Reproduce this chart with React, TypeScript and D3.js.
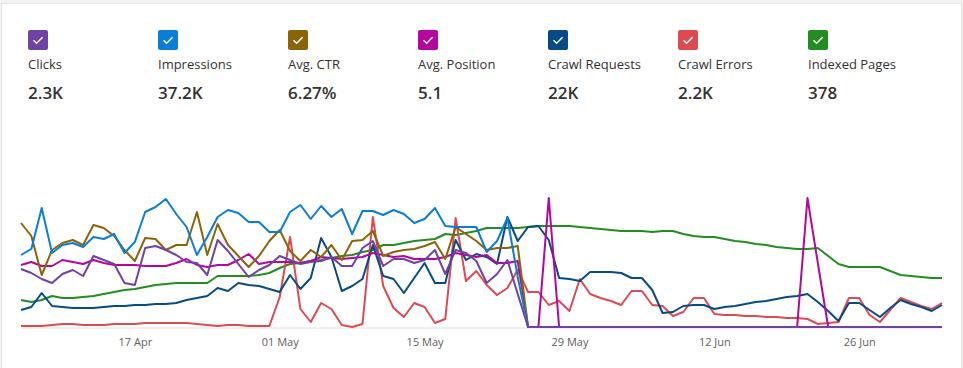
import React, { useEffect, useRef } from 'react';
import * as d3 from 'd3';

// daily points, 6 Apr -> 4 Jul, each series on its own relative scale (0..130)
const startDate = new Date(2023, 3, 6);
const tickDates = [
  new Date(2023, 3, 17),
  new Date(2023, 4, 1),
  new Date(2023, 4, 15),
  new Date(2023, 4, 29),
  new Date(2023, 5, 12),
  new Date(2023, 5, 26),
];

const legendNames = ['Clicks', 'Impressions', 'Avg. CTR', 'Avg. Position', 'Crawl Requests', 'Crawl Errors', 'Indexed Pages'];
const legendTotals = ['2.3K', '37.2K', '6.27%', '5.1', '22K', '2.2K', '378'];
const seriesColors = ['#6f42a3', '#0a7ed6', '#8c6408', '#b5069e', '#074b84', '#dc4a52', '#238d22'];

const zeros = (n: number) => new Array(n).fill(0);

const clicks = [
  58, 54, 48, 44, 53, 57, 51, 71, 67, 63, 44, 42, 79, 81, 77, 72,
  65, 64, 52, 87, 76, 63, 50, 57, 62, 71, 67, 63, 65, 66, 70,
  61, 61, 79, 86, 61, 68, 68, 64, 67, 77, 53, 77, 74, 66, 44, 53, 67, 33,
  ...zeros(41),
];

const impressions = [
  72, 78, 119, 74, 82, 84, 80, 90, 88, 93, 74, 85, 115, 120, 128, 113,
  100, 72, 90, 110, 117, 114, 105, 105, 95, 95, 115, 122, 108, 121, 110,
  118, 93, 116, 116, 112, 117, 113, 104, 108, 119, 101, 100, 100, 100, 75, 86, 109, 50,
  ...zeros(41),
];

const avgCtr = [
  104, 91, 52, 77, 84, 87, 82, 102, 99, 91, 77, 66, 89, 88, 77, 82,
  82, 115, 72, 103, 82, 71, 60, 71, 86, 97, 76, 66, 77, 70, 82,
  67, 86, 87, 96, 71, 75, 77, 78, 81, 85, 68, 100, 93, 86, 77, 79, 79, 81,
  ...zeros(41),
];

const avgPosition = [
  62, 65, 61, 61, 67, 65, 63, 67, 64, 62, 62, 62, 61, 61, 61, 64,
  68, 62, 60, 62, 62, 67, 73, 63, 65, 65, 65, 64, 66, 70, 69,
  68, 69, 70, 74, 72, 70, 71, 68, 68, 68, 70, 74, 72, 70, 72, 64, 64, 66,
  0, 0, 129, 0, 0, 0, 0, 0, 0, 0, 0, 0, 0, 0, 0, 0, 0, 0,
  0, 0, 0, 0, 0, 0, 0, 0, 0, 129, 64, 0, 0, 0, 0, 0, 0, 0, 0, 0, 0, 0, 0,
];

const crawlRequests = [
  17, 20, 34, 21, 20, 19, 19, 19, 20, 21, 21, 22, 22, 23, 23, 24,
  27, 29, 31, 39, 36, 44, 42, 41, 38, 35, 52, 38, 49, 89, 70,
  36, 41, 48, 82, 51, 48, 34, 49, 64, 44, 44, 87, 67, 73, 70, 63, 110, 86,
  100, 101, 87, 49, 48, 46, 55, 55, 55, 54, 49, 49,
  37, 14, 15, 21, 22, 22, 18,
  20, 21, 23, 25, 26, 28, 30, 31, 33,
  25, 16, 6, 24, 24, 17, 10, 19, 27, 23, 20, 16, 22,
];

const crawlErrors = [
  1, 1, 1, 2, 3, 3, 2, 2, 2, 3, 3, 3, 4, 4, 4, 4,
  4, 3, 2, 1, 2, 2, 1, 1, 1, 30, 90, 18, 5, 24, 18,
  2, 0, 3, 110, 41, 19, 10, 24, 20, 4, 8, 109, 46, 56, 42, 32, 39, 57,
  35, 35, 22, 26, 16, 48, 33, 29, 26, 22, 36, 36,
  22, 21, 11, 15, 29, 29, 13,
  12, 12, 11, 11, 10, 10, 9, 9, 8,
  3, 4, 5, 29, 29, 12, 5, 17, 29, 25, 21, 18, 24,
];

const indexedPages = [
  27, 25, 27, 31, 29, 29, 30, 31, 33, 35, 37, 38, 40, 42, 43, 44,
  44, 44, 44, 51, 51, 51, 51, 52, 54, 59, 63, 64, 66, 67, 69,
  71, 72, 75, 77, 82, 82, 84, 86, 87, 88, 93, 92, 94, 96, 99, 99, 99, 99,
  100, 101, 101, 101, 101, 100, 99, 98, 97, 96, 96, 96,
  95, 96, 96, 93, 91, 90, 90,
  88, 86, 85, 83, 82, 80, 79, 78, 78,
  79, 71, 63, 60, 60, 60, 60, 56, 52, 51, 50, 49, 49,
];

const allSeries = [clicks, impressions, avgCtr, avgPosition, crawlRequests, crawlErrors, indexedPages];

const FONT = '"Segoe UI", "Open Sans", "Noto Sans", sans-serif';

export default function App() {
  const ref = useRef<SVGSVGElement>(null);

  useEffect(() => {
    const width = 963;
    const height = 368;
    const svg = d3.select(ref.current);
    svg.selectAll('*').remove();

    svg.append('rect').attr('width', width).attr('height', height).attr('fill', '#f3f2f1');
    svg
      .append('rect')
      .attr('x', 1.5)
      .attr('y', 3.5)
      .attr('width', 960)
      .attr('height', 380)
      .attr('fill', '#ffffff')
      .attr('stroke', '#e6e6e6');

    // legend
    const legend = svg
      .selectAll('g.legend')
      .data(legendNames)
      .enter()
      .append('g')
      .attr('class', 'legend')
      .attr('transform', (_d, i) => `translate(${28 + i * 130},30)`);
    legend
      .append('rect')
      .attr('width', 20)
      .attr('height', 20)
      .attr('rx', 2)
      .attr('fill', (_d, i) => seriesColors[i]);
    legend
      .append('path')
      .attr('d', 'M5.5 10.3 L8.6 13.3 L14.6 7.2')
      .attr('fill', 'none')
      .attr('stroke', '#ffffff')
      .attr('stroke-width', 1.4);
    legend
      .append('text')
      .attr('y', 38.5)
      .attr('font-family', FONT)
      .attr('font-size', 13)
      .attr('fill', '#323130')
      .text(d => d);
    legend
      .append('text')
      .attr('y', 68.5)
      .attr('font-family', FONT)
      .attr('font-size', 17)
      .attr('font-weight', 600)
      .attr('fill', '#323130')
      .text((_d, i) => legendTotals[i]);

    // chart
    const dates = clicks.map((_v, i) => d3.timeDay.offset(startDate, i));
    const xScale = d3
      .scaleTime()
      .domain([dates[0], dates[dates.length - 1]])
      .range([21, 942]);
    const yScale = d3.scaleLinear().domain([0, 130]).range([327, 197]);

    const xAxis = svg
      .append('g')
      .attr('transform', 'translate(0,327.5)')
      .call(
        d3
          .axisBottom(xScale)
          .tickValues(tickDates)
          .tickFormat(d3.timeFormat('%d %b') as any)
          .tickSize(0)
          .tickSizeOuter(0)
          .tickPadding(11),
      );
    xAxis.select('.domain').attr('stroke', '#e1dfdd');
    xAxis
      .selectAll('text')
      .attr('font-family', FONT)
      .attr('font-size', 11)
      .attr('fill', '#605e5c');

    const line = d3
      .line<number>()
      .x((_d, i) => xScale(dates[i]))
      .y(d => yScale(d));

    // last legend entry drawn first, clicks on top
    for (let s = allSeries.length - 1; s >= 0; s--) {
      svg
        .append('path')
        .datum(allSeries[s])
        .attr('fill', 'none')
        .attr('stroke', seriesColors[s])
        .attr('stroke-width', 2)
        .attr('stroke-linejoin', 'round')
        .attr('d', line);
    }
  }, []);

  return <svg ref={ref} width={963} height={368} style={{ position: 'absolute', left: 0, top: 0 }} />;
}
